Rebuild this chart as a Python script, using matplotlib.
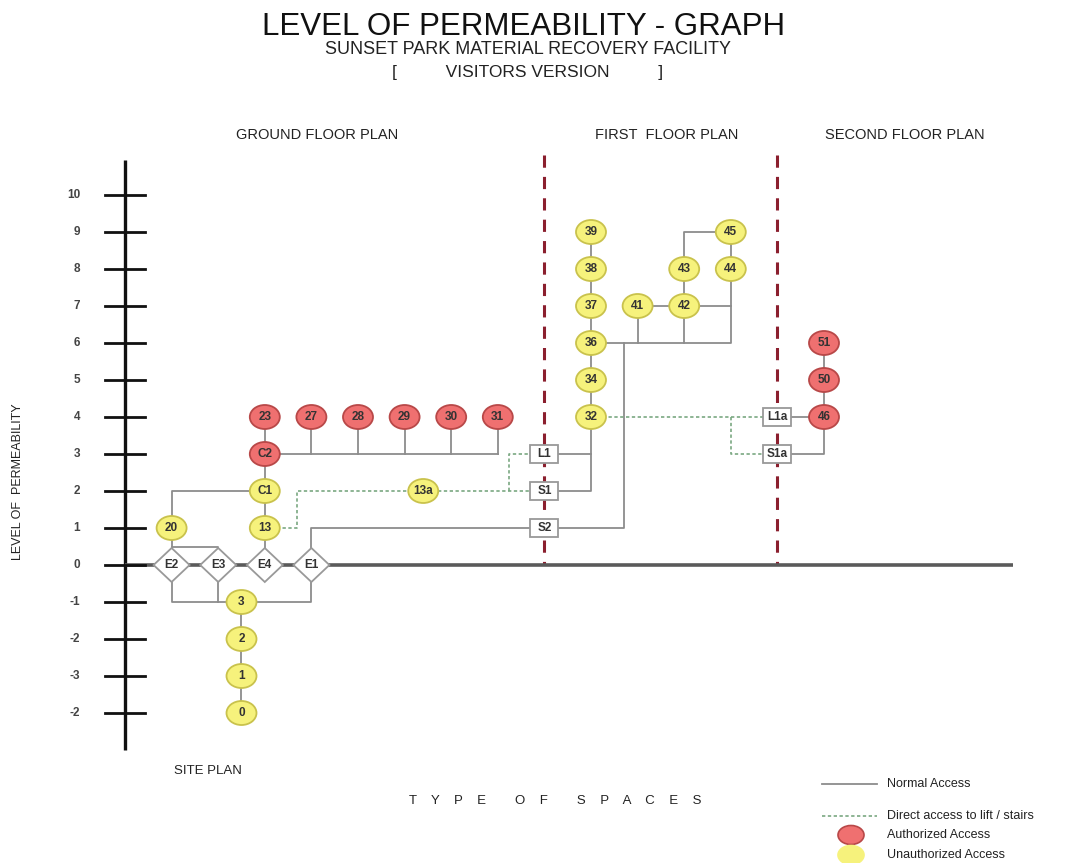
import matplotlib
matplotlib.use("Agg")
import matplotlib.pyplot as plt
from matplotlib.patches import Ellipse, Rectangle, Polygon

plt.rcParams['font.family'] = ['Liberation Sans', 'DejaVu Sans']

# ---- data ----
node_names = ["E2", "E3", "E4", "E1", "20", "13", "C1", "C2", "23", "27", "28", "29", "30", "31",
              "13a", "L1", "S1", "S2", "32", "34", "36", "37", "38", "39", "41", "42", "43", "44",
              "45", "L1a", "S1a", "46", "50", "51", "3", "2", "1", "0"]
node_cols = [1, 2, 3, 4, 1, 3, 3, 3, 3, 4, 5, 6, 7, 8,
             6.4, 9, 9, 9, 10, 10, 10, 10, 10, 10, 11, 12, 12, 13,
             13, 14, 14, 15, 15, 15, 2.5, 2.5, 2.5, 2.5]
node_levels = [0, 0, 0, 0, 1, 1, 2, 3, 4, 4, 4, 4, 4, 4,
               2, 3, 2, 1, 4, 5, 6, 7, 8, 9, 7, 7, 8, 8,
               9, 4, 3, 4, 5, 6, -1, -2, -3, -4]
node_kinds = ["entry"] * 4 + ["open", "open", "open", "auth", "auth", "auth", "auth", "auth", "auth", "auth",
              "open", "core", "core", "core", "open", "open", "open", "open", "open", "open", "open", "open", "open", "open",
              "open", "core", "core", "auth", "auth", "auth", "open", "open", "open", "open"]

# normal access routes (col, level)
normal_paths = [
    [(1, 0), (1, 1), (1, 2), (3, 2)],
    [(1, 0), (1, 0.48), (2, 0.48), (2, 0)],
    [(3, 0), (3, 4)],
    [(3, 3), (8, 3)],
    [(4, 3), (4, 4)], [(5, 3), (5, 4)], [(6, 3), (6, 4)], [(7, 3), (7, 4)], [(8, 3), (8, 4)],
    [(4, 0), (4, 1), (9, 1)],
    [(1, 0), (1, -1), (4, -1), (4, 0)],
    [(2, 0), (2, -1)],
    [(2.5, -1), (2.5, -4)],
    [(9, 3), (10, 3)],
    [(9, 2), (10, 2), (10, 9)],
    [(10, 6), (13, 6), (13, 8)],
    [(11, 6), (11, 7)],
    [(12, 6), (12, 9), (13, 9), (13, 8)],
    [(11, 7), (13, 7)],
    [(9, 1), (10.7, 1), (10.7, 6)],
    [(14, 4), (15, 4)],
    [(14, 3), (15, 3), (15, 6)],
]
# direct access to lift / stairs
lift_paths = [
    [(3, 1), (3.7, 1), (3.7, 2), (9, 2)],
    [(8.24, 2), (8.24, 3), (9, 3)],
    [(10, 4), (14, 4)],
    [(13, 4), (13, 3), (14, 3)],
]
floor_breaks = [9, 14]

tick_pos = [10, 9, 8, 7, 6, 5, 4, 3, 2, 1, 0, -1, -2, -3, -4]
tick_labels = ["10", "9", "8", "7", "6", "5", "4", "3", "2", "1", "0", "-1", "-2", "-3", "-2"]

# ---- figure set up so one column = 46.6 px and one level = 37 px ----
W, H = 1080, 863
CX, CY = 46.6, 37.0
X0, Y0 = 125, 565
fig = plt.figure(figsize=(W / 100, H / 100), dpi=100)
ax = fig.add_axes([0, 0, 1, 1])
ax.set_xlim(-X0 / CX, (W - X0) / CX)
ax.set_ylim((Y0 - H) / CY, Y0 / CY)
ax.axis('off')


def fx(px):
    return px / W


def fy(py):
    return 1 - py / H


def lx(px):
    return (px - X0) / CX


def ly(py):
    return (Y0 - py) / CY


line_gray = '#8c8c8c'
green = '#7aa882'
red_face, red_edge = '#ef7070', '#b84848'
yel_face, yel_edge = '#f6f27c', '#c9c24c'

# axes
ax.plot([0, 0], [10.95, -5.0], color='#111111', lw=2.4, solid_capstyle='butt', zorder=2)
ax.plot([0, lx(1013)], [0, 0], color='#5a5a5a', lw=2.6, solid_capstyle='butt', zorder=2)
for t, lab in zip(tick_pos, tick_labels):
    ax.plot([-0.43, 0.43], [t, t], color='#111111', lw=2.0, zorder=2)
    ax.text(lx(80), t, lab, ha='right', va='center', fontsize=8.5, color='#444444', fontweight='bold')

# floor separators
for xb in floor_breaks:
    ax.plot([xb, xb], [ly(155), 0], color='#8b1f2e', lw=2.2, ls=(0, (4, 3)), zorder=1)

for p in normal_paths:
    xs, ys = zip(*p)
    ax.plot(xs, ys, color=line_gray, lw=1.3, zorder=3)
for p in lift_paths:
    xs, ys = zip(*p)
    ax.plot(xs, ys, color=green, lw=1.2, ls=(0, (2, 1.5)), zorder=3)

# nodes
for name, c, lv, kind in zip(node_names, node_cols, node_levels, node_kinds):
    if kind == 'entry':
        hw, hh = 18 / CX, 17 / CY
        ax.add_patch(Polygon([(c - hw, lv), (c, lv + hh), (c + hw, lv), (c, lv - hh)],
                             facecolor='white', edgecolor='#999999', lw=1.3, zorder=5))
    elif kind == 'core':
        w, h = 28 / CX, 18 / CY
        ax.add_patch(Rectangle((c - w / 2, lv - h / 2), w, h,
                               facecolor='white', edgecolor='#999999', lw=1.3, zorder=5))
    else:
        fc, ec = (red_face, red_edge) if kind == 'auth' else (yel_face, yel_edge)
        ax.add_patch(Ellipse((c, lv), 30 / CX, 24 / CY, facecolor=fc, edgecolor=ec, lw=1.3, zorder=5))
    ax.text(c, lv, name, ha='center', va='center', fontsize=8.5, color='#333333',
            fontweight='bold', zorder=6)

# titles
fig.text(fx(523), fy(27), "LEVEL OF PERMEABILITY - GRAPH", ha='center', va='center', fontsize=22.5, color='#111111')
fig.text(fx(528), fy(49), "SUNSET PARK MATERIAL RECOVERY FACILITY", ha='center', va='center', fontsize=13, color='#222222')
fig.text(fx(528), fy(72), "[          VISITORS VERSION          ]", ha='center', va='center', fontsize=12.5, color='#222222')

for px, txt in [(317, "GROUND FLOOR PLAN"), (667, "FIRST  FLOOR PLAN"), (905, "SECOND FLOOR PLAN")]:
    fig.text(fx(px), fy(135), txt, ha='center', va='center', fontsize=10.5, color='#222222')

fig.text(fx(208), fy(771), "SITE PLAN", ha='center', va='center', fontsize=9.5, color='#222222')
fig.text(fx(555), fy(801), "T    Y    P    E        O    F        S    P    A    C    E    S",
         ha='center', va='center', fontsize=9.5, color='#222222')
fig.text(fx(18), fy(482), "LEVEL OF  PERMEABILITY", ha='center', va='center', rotation=90,
         fontsize=9, color='#222222')

# legend
ax.plot([lx(822), lx(877)], [ly(784), ly(784)], color=line_gray, lw=1.3)
ax.plot([lx(822), lx(877)], [ly(816), ly(816)], color=green, lw=1.2, ls=(0, (2, 1.5)))
ax.add_patch(Ellipse((lx(851), ly(835)), 26 / CX, 19 / CY, facecolor=red_face, edgecolor=red_edge, lw=1.2))
ax.add_patch(Ellipse((lx(851), ly(855)), 26 / CX, 19 / CY, facecolor=yel_face, edgecolor=yel_face, lw=1.2))
for py, txt in [(784, "Normal Access"), (816, "Direct access to lift / stairs"),
                (835, "Authorized Access"), (855, "Unauthorized Access")]:
    fig.text(fx(887), fy(py), txt, ha='left', va='center', fontsize=9, color='#222222')

fig.savefig("out.png", dpi=100, facecolor='white')
